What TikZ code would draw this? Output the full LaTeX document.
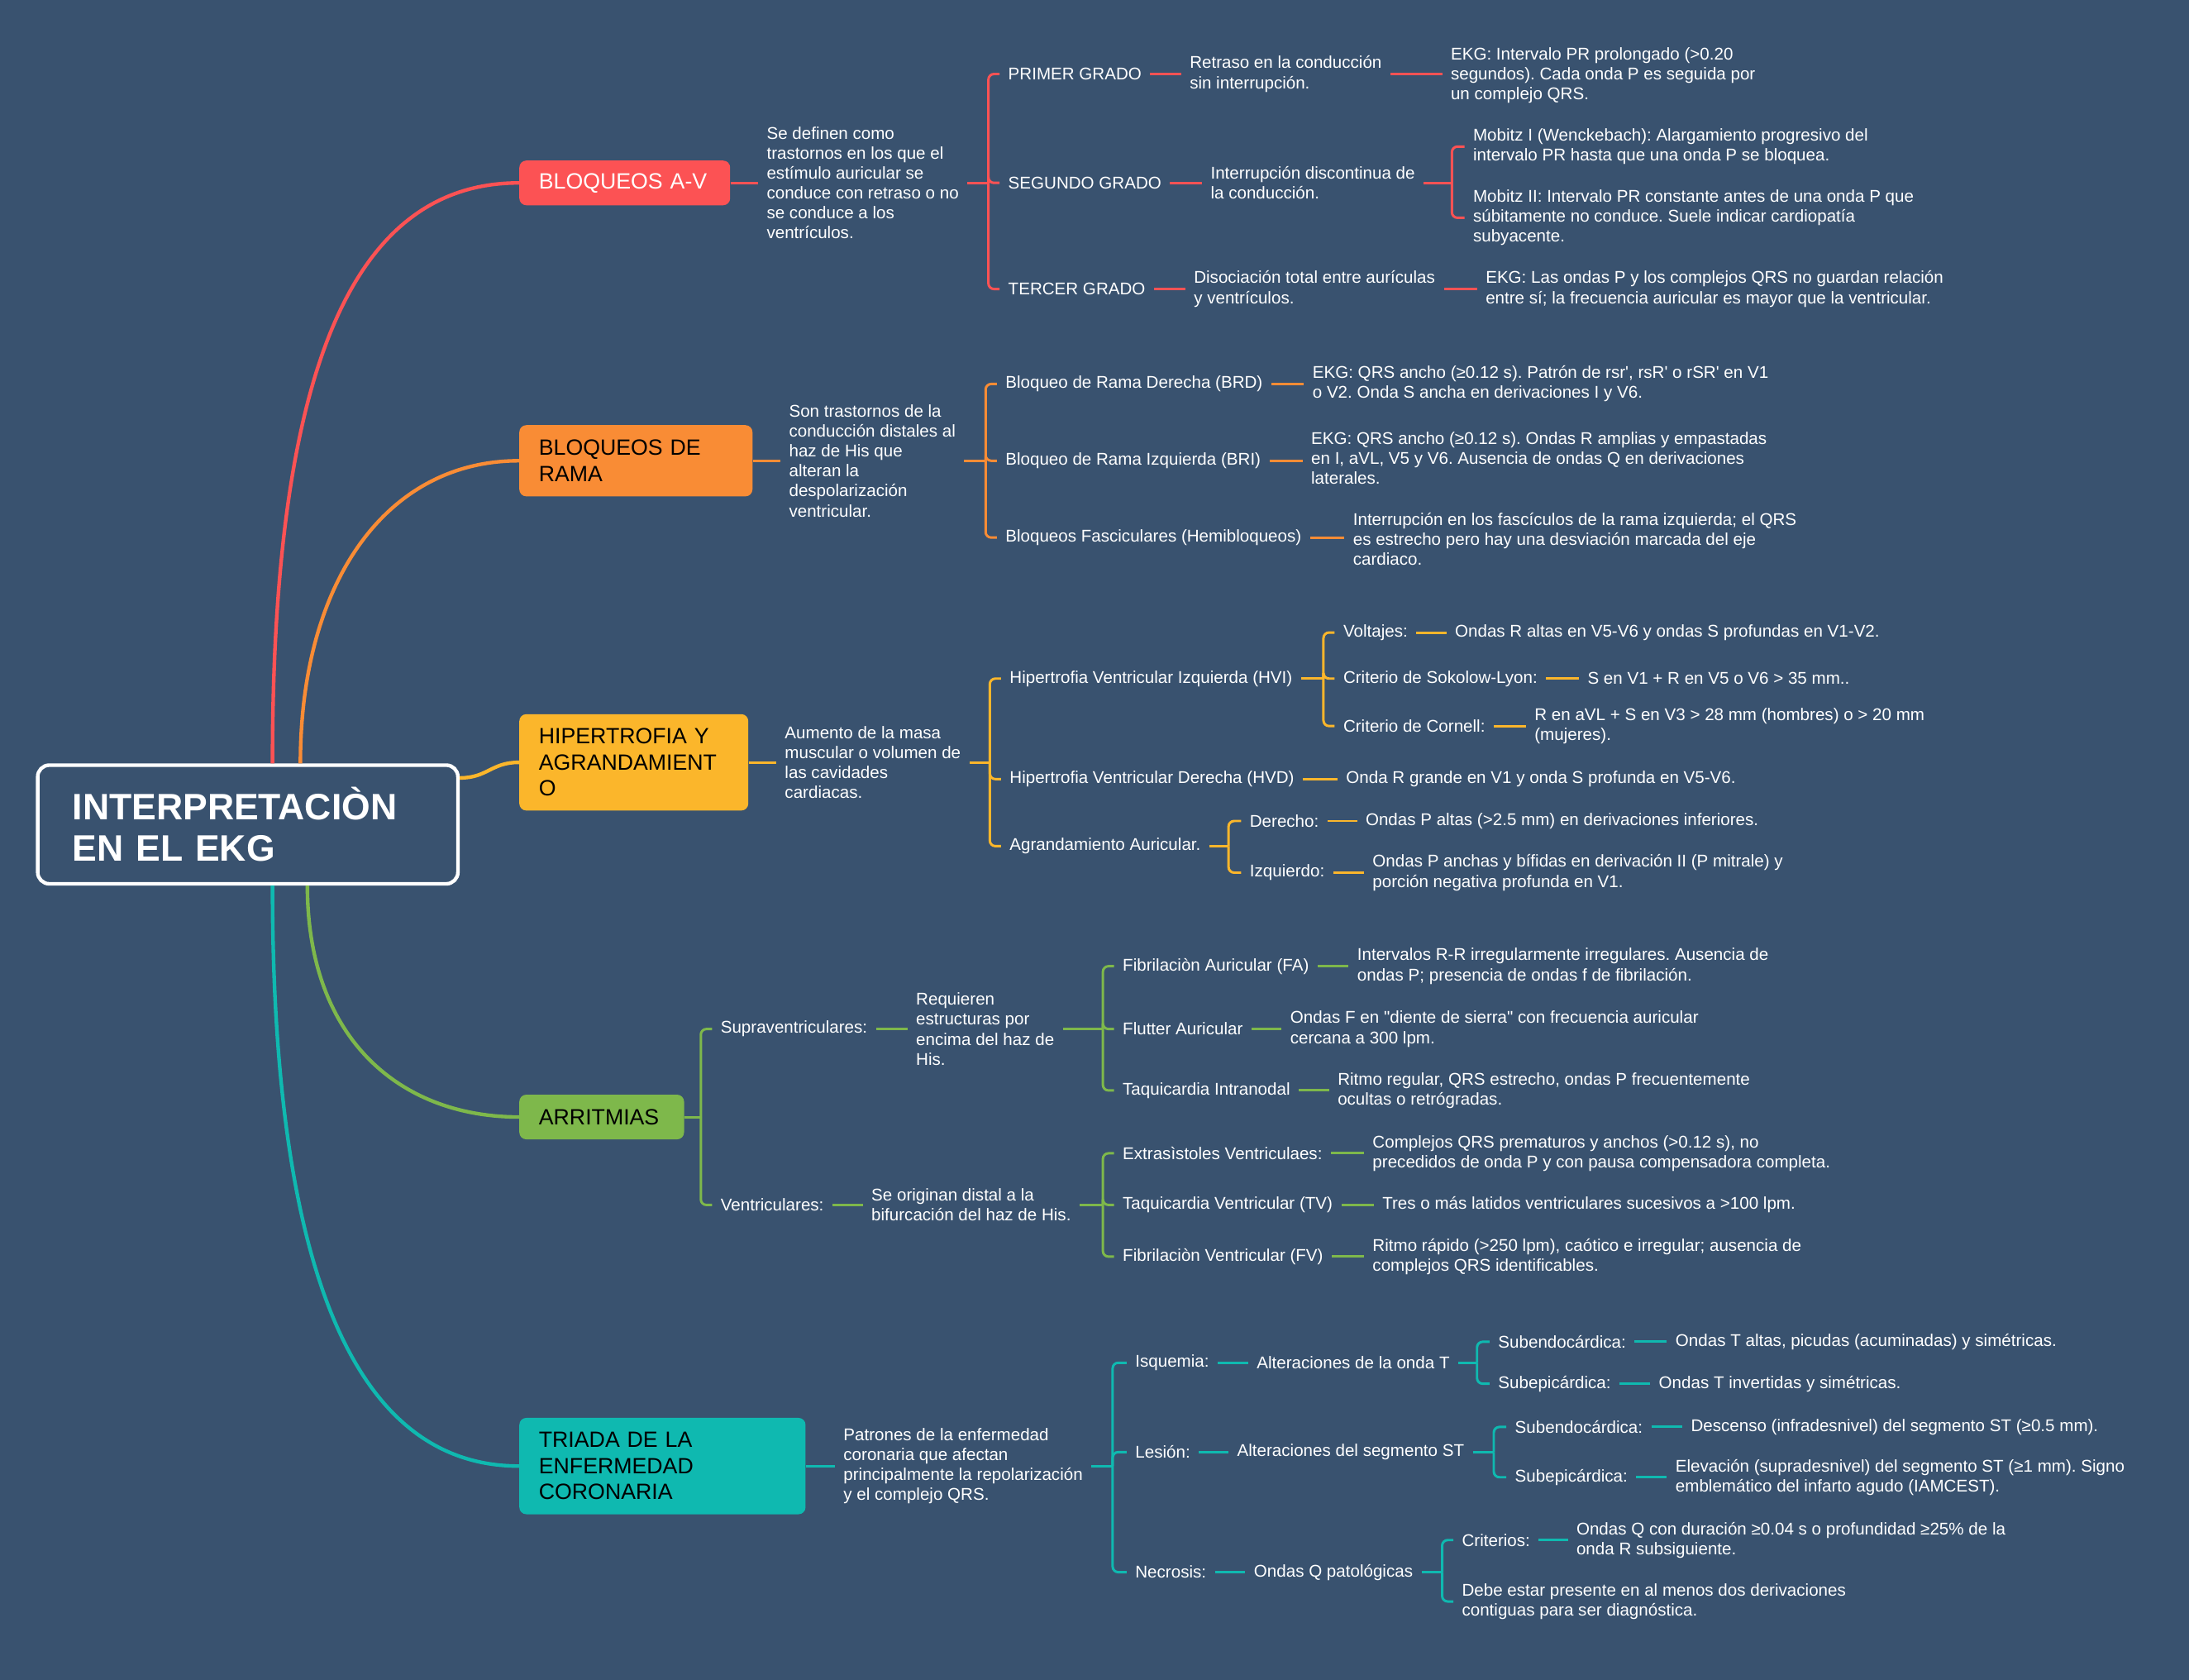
\documentclass[tikz,border=0pt]{standalone}
\usepackage{fontspec}
\setmainfont{Liberation Sans}[Ligatures=TeXOff]
\frenchspacing
\usetikzlibrary{calc}
\definecolor{navy}{RGB}{57,82,111}
\definecolor{avred}{RGB}{252,82,84}
\definecolor{ramaorange}{RGB}{249,140,53}
\definecolor{hipamber}{RGB}{251,182,43}
\definecolor{arrgreen}{RGB}{126,184,75}
\definecolor{triteal}{RGB}{15,185,176}

\begin{document}
\begin{tikzpicture}[x=0.03cm,y=-0.03cm,
  every node/.style={font=\fontsize{10.4}{12.2}\selectfont,text=white},
  leaf/.style={anchor=west,inner sep=0pt,align=left},
  topic/.style={rounded corners=0.15cm,inner xsep=0.42cm,align=left,font=\fontsize{13.5}{16}\selectfont,text=black},
  trunk/.style={line width=2.2pt},
  wire/.style={line width=1.5pt},
  tie/.style={wire,shorten <=0.18cm,shorten >=0.18cm},
  stem/.style={wire,shorten <=0.18cm},
  fork/.style={wire,rounded corners=0.12cm,shorten >=0.18cm}]
\fill[navy] (0,0) rectangle (1568,1203);
\useasboundingbox (0,0) rectangle (1568,1203);

\node[draw=white,line width=2.2pt,fill=navy,rounded corners=0.25cm,minimum width=9.03cm,minimum height=2.55cm,text width=7.53cm,inner xsep=0.75cm,align=left,font=\fontsize{22.5}{25.5}\selectfont\bfseries] (main) at (177.5,590.5) {INTERPRETACIÒN\\EN EL EKG};

\begin{scope}[avred]
\node[topic,fill=avred,text=white,minimum width=4.53cm,minimum height=0.96cm,text width=3.69cm] (av) at (447.5,131) {BLOQUEOS A-V};
\node[leaf] (avDef) at (549,131) {Se definen como\\trastornos en los que el\\estímulo auricular se\\conduce con retraso o no\\se conduce a los\\ventrículos.};
\coordinate (jAv) at (708,131);
\node[leaf] (g1) at (722,53) {PRIMER GRADO};
\node[leaf] (g2) at (722,131) {SEGUNDO GRADO};
\node[leaf] (g3) at (722,207) {TERCER GRADO};
\node[leaf] (g1a) at (852,53) {Retraso en la conducción\\sin interrupción.};
\node[leaf] (g1b) at (1039,54) {EKG: Intervalo PR prolongado (>0.20\\segundos). Cada onda P es seguida por\\un complejo QRS.};
\node[leaf] (g2a) at (867,131) {Interrupción discontinua de\\la conducción.};
\coordinate (jMob) at (1040,131);
\node[leaf] (mob1) at (1055,105) {Mobitz I (Wenckebach): Alargamiento progresivo del\\intervalo PR hasta que una onda P se bloquea.};
\node[leaf] (mob2) at (1055,156) {Mobitz II: Intervalo PR constante antes de una onda P que\\súbitamente no conduce. Suele indicar cardiopatía\\subyacente.};
\node[leaf] (g3a) at (855,207) {Disociación total entre aurículas\\y ventrículos.};
\node[leaf] (g3b) at (1064,207) {EKG: Las ondas P y los complejos QRS no guardan relación\\entre sí; la frecuencia auricular es mayor que la ventricular.};
\draw[fork] (av) -- (avDef);
\draw[stem] (avDef) -- (jAv);
\foreach \kid in {g1,g2,g3} \draw[fork] (jAv) |- (\kid);
\draw[tie] (g1) -- (g1a);
\draw[tie] (g1a) -- (g1a -| g1b.west);
\draw[tie] (g2) -- (g2a);
\draw[stem] (g2a) -- (jMob);
\foreach \kid in {mob1,mob2} \draw[fork] (jMob) |- (\kid);
\draw[tie] (g3) -- (g3a);
\draw[tie] (g3a) -- (g3b);
\end{scope}

\begin{scope}[ramaorange]
\node[topic,fill=ramaorange,minimum width=5.01cm,minimum height=1.53cm,text width=4.17cm] (rm) at (455.5,330) {BLOQUEOS DE\\RAMA};
\node[leaf] (rmDef) at (565,330) {Son trastornos de la\\conducción distales al\\haz de His que\\alteran la\\despolarización\\ventricular.};
\coordinate (jRm) at (706,330);
\node[leaf] (brd) at (720,275) {Bloqueo de Rama Derecha (BRD)};
\node[leaf] (bri) at (720,330) {Bloqueo de Rama Izquierda (BRI)};
\node[leaf] (hemi) at (720,385) {Bloqueos Fasciculares (Hemibloqueos)};
\node[leaf] (brdE) at (940,275) {EKG: QRS ancho (≥0.12 s). Patrón de rsr', rsR' o rSR' en V1\\o V2. Onda S ancha en derivaciones I y V6.};
\node[leaf] (briE) at (939,328) {EKG: QRS ancho (≥0.12 s). Ondas R amplias y empastadas\\en I, aVL, V5 y V6. Ausencia de ondas Q en derivaciones\\laterales.};
\node[leaf] (hemiE) at (969,386) {Interrupción en los fascículos de la rama izquierda; el QRS\\es estrecho pero hay una desviación marcada del eje\\cardiaco.};
\draw[fork] (rm) -- (rmDef);
\draw[stem] (rmDef) -- (jRm);
\foreach \kid in {brd,bri,hemi} \draw[fork] (jRm) |- (\kid);
\draw[tie] (brd) -- (brdE);
\draw[tie] (bri) -- (bri -| briE.west);
\draw[tie] (hemi) -- (hemi -| hemiE.west);
\end{scope}

\begin{scope}[hipamber]
\node[topic,fill=hipamber,minimum width=4.92cm,minimum height=2.07cm,text width=4.08cm] (hp) at (454,546) {HIPERTROFIA Y\\AGRANDAMIENT\\O};
\node[leaf] (hpDef) at (562,546) {Aumento de la masa\\muscular o volumen de\\las cavidades\\cardiacas.};
\coordinate (jHp) at (709,546);
\node[leaf] (hvi) at (723,486) {Hipertrofia Ventricular Izquierda (HVI)};
\node[leaf] (hvd) at (723,558) {Hipertrofia Ventricular Derecha (HVD)};
\node[leaf] (agr) at (723,606) {Agrandamiento Auricular.};
\coordinate (jHvi) at (948,486);
\node[leaf] (volt) at (962,453) {Voltajes:};
\node[leaf] (soko) at (962,486) {Criterio de Sokolow-Lyon:};
\node[leaf] (corn) at (962,520) {Criterio de Cornell:};
\node[leaf] (voltE) at (1042,453) {Ondas R altas en V5-V6 y ondas S profundas en V1-V2.};
\node[leaf] (sokoE) at (1137,486) {S en V1 + R en V5 o V6 > 35 mm..};
\node[leaf] (cornE) at (1099,520) {R en aVL + S en V3 > 28 mm (hombres) o > 20 mm\\(mujeres).};
\node[leaf] (hvdE) at (964,558) {Onda R grande en V1 y onda S profunda en V5-V6.};
\coordinate (jAgr) at (880,606);
\node[leaf] (der) at (895,588) {Derecho:};
\node[leaf] (izq) at (895,625) {Izquierdo:};
\node[leaf] (derE) at (978,588) {Ondas P altas (>2.5 mm) en derivaciones inferiores.};
\node[leaf] (izqE) at (983,625) {Ondas P anchas y bífidas en derivación II (P mitrale) y\\porción negativa profunda en V1.};
\draw[fork] (hp) -- (hpDef);
\draw[stem] (hpDef) -- (jHp);
\foreach \kid in {hvi,hvd,agr} \draw[fork] (jHp) |- (\kid);
\draw[stem] (hvi) -- (jHvi);
\foreach \kid in {volt,soko,corn} \draw[fork] (jHvi) |- (\kid);
\draw[tie] (volt) -- (voltE);
\draw[tie] (soko) -- (sokoE);
\draw[tie] (corn) -- (cornE);
\draw[tie] (hvd) -- (hvdE);
\draw[stem] (agr) -- (jAgr);
\foreach \kid in {der,izq} \draw[fork] (jAgr) |- (\kid);
\draw[tie] (der) -- (derE);
\draw[tie] (izq) -- (izqE);
\end{scope}

\begin{scope}[arrgreen]
\node[topic,fill=arrgreen,minimum width=3.54cm,minimum height=0.96cm,text width=2.7cm] (ar) at (431,800) {ARRITMIAS};
\coordinate (jAr) at (502,800);
\node[leaf] (sup) at (516,737) {Supraventriculares:};
\node[leaf] (ven) at (516,863) {Ventriculares:};
\node[leaf] (supDef) at (656,737) {Requieren\\estructuras por\\encima del haz de\\His.};
\coordinate (jSup) at (790,737);
\node[leaf] (fa) at (804,692) {Fibrilaciòn Auricular (FA)};
\node[leaf] (flu) at (804,737) {Flutter Auricular};
\node[leaf] (tin) at (804,781) {Taquicardia Intranodal};
\node[leaf] (faE) at (972,692) {Intervalos R-R irregularmente irregulares. Ausencia de\\ondas P; presencia de ondas f de fibrilación.};
\node[leaf] (fluE) at (924,737) {Ondas F en "diente de sierra" con frecuencia auricular\\cercana a 300 lpm.};
\node[leaf] (tinE) at (958,781) {Ritmo regular, QRS estrecho, ondas P frecuentemente\\ocultas o retrógradas.};
\node[leaf] (venDef) at (624,863) {Se originan distal a la\\bifurcación del haz de His.};
\coordinate (jVen) at (790,863);
\node[leaf] (ext) at (804,826) {Extrasìstoles Ventriculaes:};
\node[leaf] (tv) at (804,863) {Taquicardia Ventricular (TV)};
\node[leaf] (fv) at (804,900) {Fibrilaciòn Ventricular (FV)};
\node[leaf] (extE) at (983,826) {Complejos QRS prematuros y anchos (>0.12 s), no\\precedidos de onda P y con pausa compensadora completa.};
\node[leaf] (tvE) at (990,863) {Tres o más latidos ventriculares sucesivos a >100 lpm.};
\node[leaf] (fvE) at (983,900) {Ritmo rápido (>250 lpm), caótico e irregular; ausencia de\\complejos QRS identificables.};
\draw[wire] (ar) -- (jAr);
\foreach \kid in {sup,ven} \draw[fork] (jAr) |- (\kid);
\draw[tie] (sup) -- (supDef);
\draw[stem] (supDef) -- (jSup);
\foreach \kid in {fa,flu,tin} \draw[fork] (jSup) |- (\kid);
\draw[tie] (fa) -- (faE);
\draw[tie] (flu) -- (fluE);
\draw[tie] (tin) -- (tinE);
\draw[tie] (ven) -- (venDef);
\draw[stem] (venDef) -- (jVen);
\foreach \kid in {ext,tv,fv} \draw[fork] (jVen) |- (\kid);
\draw[tie] (ext) -- (extE);
\draw[tie] (tv) -- (tvE);
\draw[tie] (fv) -- (fvE);
\end{scope}

\begin{scope}[triteal]
\node[topic,fill=triteal,minimum width=6.15cm,minimum height=2.07cm,text width=5.31cm] (tr) at (474.5,1050) {TRIADA DE LA\\ENFERMEDAD\\CORONARIA};
\node[leaf] (trDef) at (604,1050) {Patrones de la enfermedad\\coronaria que afectan\\principalmente la repolarización\\y el complejo QRS.};
\coordinate (jTr) at (797,1050);
\node[leaf] (isq) at (813,976) {Isquemia:};
\node[leaf] (les) at (813,1040) {Lesión:};
\node[leaf] (nec) at (813,1126) {Necrosis:};
\node[leaf] (isqT) at (900,976) {Alteraciones de la onda T};
\coordinate (jIsq) at (1058,976);
\node[leaf] (sendI) at (1073,961) {Subendocárdica:};
\node[leaf] (sepiI) at (1073,991) {Subepicárdica:};
\node[leaf] (sendIE) at (1200,961) {Ondas T altas, picudas (acuminadas) y simétricas.};
\node[leaf] (sepiIE) at (1188,991) {Ondas T invertidas y simétricas.};
\node[leaf] (lesST) at (886,1040) {Alteraciones del segmento ST};
\coordinate (jLes) at (1070,1040);
\node[leaf] (sendL) at (1085,1022) {Subendocárdica:};
\node[leaf] (sepiL) at (1085,1058) {Subepicárdica:};
\node[leaf] (sendLE) at (1211,1022) {Descenso (infradesnivel) del segmento ST (≥0.5 mm).};
\node[leaf] (sepiLE) at (1200,1058) {Elevación (supradesnivel) del segmento ST (≥1 mm). Signo\\emblemático del infarto agudo (IAMCEST).};
\node[leaf] (necQ) at (898,1126) {Ondas Q patológicas};
\coordinate (jNec) at (1033,1126);
\node[leaf] (crit) at (1047,1103) {Criterios:};
\node[leaf] (debe) at (1047,1147) {Debe estar presente en al menos dos derivaciones\\contiguas para ser diagnóstica.};
\node[leaf] (critE) at (1129,1103) {Ondas Q con duración ≥0.04 s o profundidad ≥25\% de la\\onda R subsiguiente.};
\draw[fork] (tr) -- (trDef);
\draw[stem] (trDef) -- (jTr);
\foreach \kid in {isq,les,nec} \draw[fork] (jTr) |- (\kid);
\draw[tie] (isq) -- (isqT);
\draw[stem] (isqT) -- (jIsq);
\foreach \kid in {sendI,sepiI} \draw[fork] (jIsq) |- (\kid);
\draw[tie] (sendI) -- (sendIE);
\draw[tie] (sepiI) -- (sepiIE);
\draw[tie] (les) -- (lesST);
\draw[stem] (lesST) -- (jLes);
\foreach \kid in {sendL,sepiL} \draw[fork] (jLes) |- (\kid);
\draw[tie] (sendL) -- (sendLE);
\draw[tie] (sepiL) -- (sepiLE);
\draw[tie] (nec) -- (necQ);
\draw[stem] (necQ) -- (jNec);
\foreach \kid in {crit,debe} \draw[fork] (jNec) |- (\kid);
\draw[tie] (crit) -- (critE);
\end{scope}

\draw[trunk,avred] ([xshift=0.53cm]main.north) .. controls +(0,-280) and +(-120,0) .. (av.west);
\draw[trunk,ramaorange] ([xshift=1.13cm]main.north) .. controls +(0,-130) and +(-95,0) .. (rm.west);
\draw[trunk,hipamber] ([yshift=1.0cm]main.east) .. controls +(20,0) and +(-20,0) .. (hp.west);
\draw[trunk,arrgreen] ([xshift=1.28cm]main.south) .. controls +(0,110) and +(-85,0) .. (ar.west);
\draw[trunk,triteal] ([xshift=0.53cm]main.south) .. controls +(0,270) and +(-120,0) .. (tr.west);
\end{tikzpicture}
\end{document}
